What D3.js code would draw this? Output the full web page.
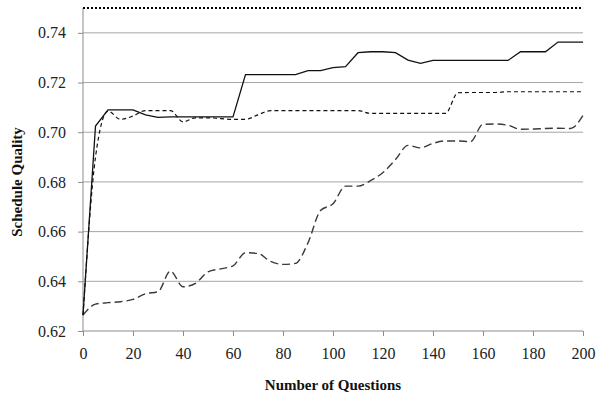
<!DOCTYPE html>
<html><head><meta charset="utf-8">
<script src="https://cdn.jsdelivr.net/npm/d3@7"></script>
<style>body{margin:0;background:#fff;}svg{display:block;}</style>
</head><body>
<script>
const questions = d3.range(0, 201, 5);
const solidSeries = [0.6264,0.7025,0.709,0.709,0.709,0.707,0.706,0.7062,0.7062,0.7062,0.7062,0.7062,0.7062,0.7232,0.7232,0.7232,0.7232,0.7232,0.7248,0.7248,0.726,0.7264,0.732,0.7324,0.7324,0.732,0.729,0.7277,0.7289,0.7289,0.7289,0.7289,0.7289,0.7289,0.7289,0.7324,0.7324,0.7324,0.7363,0.7363,0.7363];
const shortDashSeries = [0.6264,0.690,0.7085,0.7052,0.7065,0.7087,0.7087,0.7087,0.7042,0.7058,0.7058,0.7055,0.7052,0.7052,0.707,0.7087,0.7087,0.7087,0.7087,0.7087,0.7087,0.7087,0.7087,0.7076,0.7076,0.7076,0.7076,0.7076,0.7076,0.7076,0.7159,0.716,0.716,0.716,0.7163,0.7163,0.7163,0.7163,0.7163,0.7163,0.7163];
const longDashSeries = [0.6264,0.6308,0.6314,0.6318,0.6327,0.635,0.6358,0.6441,0.6378,0.6392,0.6438,0.645,0.6462,0.6515,0.6512,0.648,0.6468,0.6472,0.6555,0.6685,0.6712,0.6783,0.6783,0.6805,0.6838,0.689,0.6947,0.6937,0.6955,0.6965,0.6965,0.6962,0.7032,0.7033,0.7028,0.7012,0.7013,0.7015,0.7016,0.7015,0.7068];
const upperBound = 0.75;
const xTicks = [0,20,40,60,80,100,120,140,160,180,200];
const yTicks = [0.62,0.64,0.66,0.68,0.70,0.72,0.74];
const xTitle = "Number of Questions";
const yTitle = "Schedule Quality";

const W = 608, H = 403;
const svg = d3.select("body").append("svg").attr("width", W).attr("height", H);
const x = d3.scaleLinear().domain([0, 200]).range([83, 583]);
const y = d3.scaleLinear().domain([0.62, 0.75]).range([331, 8]);
const font = "'Liberation Serif','Times New Roman',serif";

// gridlines
svg.append("g").selectAll("line").data(yTicks.slice(1)).join("line")
  .attr("x1", x(0)).attr("x2", x(200)).attr("y1", d => y(d)).attr("y2", d => y(d))
  .attr("stroke", "#a6a6a6").attr("stroke-width", 1);

// y axis
const yAxis = svg.append("g").attr("transform", `translate(${x(0)},0)`)
  .call(d3.axisLeft(y).tickValues(yTicks).tickFormat(d3.format(".2f")).tickSize(5).tickPadding(12));
yAxis.select(".domain").attr("d", `M0,${y(0.62)}V${y(upperBound)}`).attr("stroke", "#8c8c8c");
yAxis.selectAll(".tick line").attr("stroke", "#8c8c8c");
yAxis.selectAll("text").attr("font-family", font).attr("font-size", 16).attr("fill", "#222");

// x axis
const xAxis = svg.append("g").attr("transform", `translate(0,${y(0.62)})`)
  .call(d3.axisBottom(x).tickValues(xTicks).tickFormat(d3.format("d")).tickSize(5).tickPadding(12));
xAxis.select(".domain").attr("d", `M${x(0)},0H${x(200)}`).attr("stroke", "#8c8c8c");
xAxis.selectAll(".tick line").attr("stroke", "#8c8c8c");
xAxis.selectAll("text").attr("font-family", font).attr("font-size", 16).attr("fill", "#222");

// upper bound dotted
svg.append("line").attr("x1", x(0)).attr("x2", x(200)).attr("y1", y(upperBound)).attr("y2", y(upperBound))
  .attr("stroke", "#000").attr("stroke-width", 2).attr("stroke-dasharray", "2,2");

const lineLin = d3.line().x((d,i) => x(questions[i])).y(d => y(d));
const lineSmooth = d3.line().x((d,i) => x(questions[i])).y(d => y(d)).curve(d3.curveMonotoneX);

svg.append("path").datum(longDashSeries).attr("d", lineSmooth)
  .attr("fill", "none").attr("stroke", "#3a3a3a").attr("stroke-width", 1.4).attr("stroke-dasharray", "8,4");
svg.append("path").datum(shortDashSeries).attr("d", lineSmooth)
  .attr("fill", "none").attr("stroke", "#111").attr("stroke-width", 1.2).attr("stroke-dasharray", "4,3");
svg.append("path").datum(solidSeries).attr("d", lineLin)
  .attr("fill", "none").attr("stroke", "#111").attr("stroke-width", 1.3);

svg.append("text").attr("x", 333).attr("y", 390).attr("text-anchor", "middle")
  .attr("font-family", font).attr("font-weight", "bold").attr("font-size", 15).attr("fill", "#111").text(xTitle);
svg.append("text").attr("transform", "translate(22,182) rotate(-90)").attr("text-anchor", "middle")
  .attr("font-family", font).attr("font-weight", "bold").attr("font-size", 15).attr("fill", "#111").text(yTitle);
</script>
</body></html>
